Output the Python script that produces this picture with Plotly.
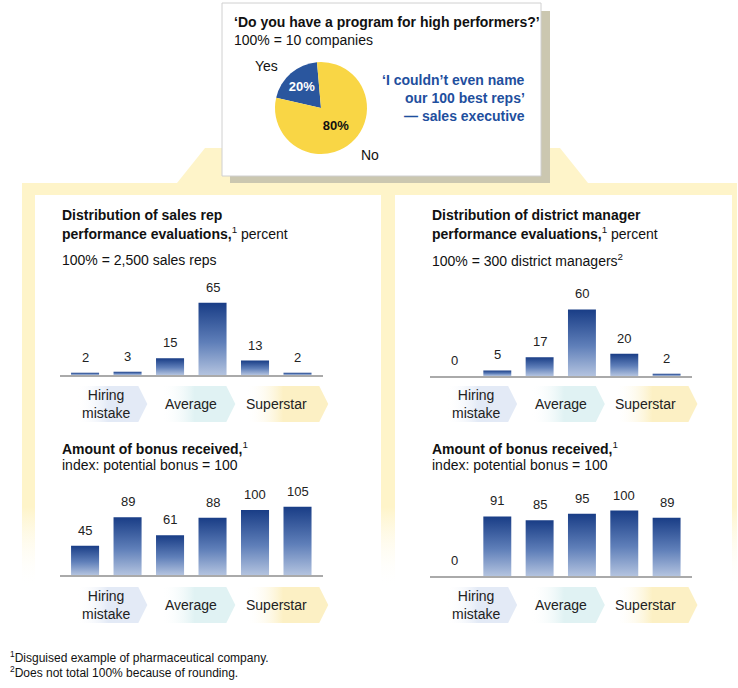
import plotly.graph_objects as go

W, H = 738, 688
FONT = "Liberation Sans Narrow, Arial Narrow, Liberation Sans, sans-serif"

# ---------------- data ----------------
pie_labels = ["Yes", "No"]
pie_values = [20, 80]
perf_levels = ["Hiring<br>mistake", "Average", "Superstar"]
rep_eval = [2, 3, 15, 65, 13, 2]
dm_eval = [0, 5, 17, 60, 20, 2]
rep_bonus = [45, 89, 61, 88, 100, 105]
dm_bonus = [0, 91, 85, 95, 100, 89]


def px(x):
    return x / W


def py(y):
    return 1 - y / H


fig = go.Figure()

YEL = "#fef4c9"
BLUE_TXT = "#1f4f9e"


def poly(pts, fillcolor=None, line=None, fillgradient=None):
    xs = [p[0] for p in pts] + [pts[0][0]]
    ys = [p[1] for p in pts] + [pts[0][1]]
    kw = {}
    if fillgradient is not None:
        kw["fillgradient"] = fillgradient
    else:
        kw["fillcolor"] = fillcolor
    fig.add_trace(go.Scatter(x=xs, y=ys, xaxis="x", yaxis="y", mode="lines", fill="toself",
                             line=line or dict(width=0), hoverinfo="skip", showlegend=False, **kw))


# ---------------- decorative frame (pixel axis) ----------------
poly([(177, 183), (205, 148), (560, 148), (588, 183)], fillcolor=YEL)
poly([(22, 183), (737, 183), (737, 195), (22, 195)], fillcolor=YEL)
fade = dict(type="vertical", start=183, stop=588,
            colorscale=[[0, YEL], [0.8, YEL], [1, "rgba(255,255,255,0)"]])
for x0, x1 in [(22, 35), (381, 395), (732, 737)]:
    poly([(x0, 183), (x1, 183), (x1, 588), (x0, 588)], fillgradient=fade)
# top box shadow and box
poly([(230, 11), (550, 11), (550, 183), (230, 183)], fillcolor="#cbc7b0")
poly([(222, 3), (541, 3), (541, 176), (222, 176)], fillcolor="white",
     line=dict(width=1, color="#d0d0d0"))

# ---------------- bar panels ----------------
panels = [
    dict(vals=rep_eval, xa="x2", ya="y2", xpx=(60, 323), base=375, scale=1.11, yr=70, cat_y=404),
    dict(vals=dm_eval, xa="x3", ya="y3", xpx=(430, 692), base=376, scale=1.11, yr=70, cat_y=404),
    dict(vals=rep_bonus, xa="x4", ya="y4", xpx=(60, 323), base=575, scale=0.65, yr=120, cat_y=605),
    dict(vals=dm_bonus, xa="x5", ya="y5", xpx=(430, 692), base=576, scale=0.655, yr=120, cat_y=605),
]
XR = (-0.59, 5.6)
HW = 0.33
BAR_SCALE = [[0, "#b3c3df"], [0.45, "#5f7fb9"], [1, "#193d86"]]
chev_colors = ["#e3eaf6", "#e0f2f3", "#fcf0c4"]
chev_tip = [41, 44, 52]

annotations = []
layout_axes = {}
for n, p in enumerate(panels):
    xa, ya = p["xa"], p["ya"]
    for i, v in enumerate(p["vals"]):
        if v > 0:
            fig.add_trace(go.Scatter(
                x=[i - HW, i + HW, i + HW, i - HW, i - HW], y=[0, 0, v, v, 0],
                xaxis=xa, yaxis=ya, mode="lines", fill="toself", line=dict(width=0),
                fillgradient=dict(type="vertical", start=0, stop=v, colorscale=BAR_SCALE),
                hoverinfo="skip", showlegend=False))
        annotations.append(dict(x=i, y=v, xref=xa, yref=ya, text=str(v), showarrow=False,
                                yanchor="bottom", yshift=6,
                                font=dict(size=13, color="#222", family=FONT)))
    x0, x1 = p["xpx"]
    unit = (x1 - x0) / (XR[1] - XR[0])
    top = p["base"] - p["yr"] * p["scale"]
    layout_axes["xaxis" + xa[1:]] = dict(domain=[px(x0), px(x1)], range=list(XR), anchor=ya,
                                         showline=True, linecolor="#aaaaaa", linewidth=2,
                                         showticklabels=False, ticks="", showgrid=False,
                                         zeroline=False, fixedrange=True)
    layout_axes["yaxis" + ya[1:]] = dict(domain=[py(p["base"]), py(top)], range=[0, p["yr"]],
                                         anchor=xa, visible=False, showgrid=False,
                                         zeroline=False, fixedrange=True)
    # category chevrons + labels
    for k, lab in enumerate(perf_levels):
        cx = x0 + (2 * k + 0.5 - XR[0]) * unit
        ytop, ybot = p["cat_y"] - 18, p["cat_y"] + 18
        tip = cx + chev_tip[k]
        poly([(cx - 30, ytop), (tip - 9, ytop), (tip, p["cat_y"]), (tip - 9, ybot), (cx - 30, ybot)],
             fillgradient=dict(type="horizontal", start=cx - 30, stop=tip,
                               colorscale=[[0, "rgba(255,255,255,0)"], [0.45, chev_colors[k]],
                                           [1, chev_colors[k]]]))
        annotations.append(dict(x=2 * k + 0.5, y=py(p["cat_y"]), xref=xa, yref="paper",
                                text=lab, showarrow=False, yanchor="middle",
                                font=dict(size=14, color="#222", family=FONT)))

# ---------------- pie ----------------
fig.add_trace(go.Pie(
    labels=pie_labels, values=pie_values, sort=False, direction="clockwise", rotation=-77,
    domain=dict(x=[px(275), px(367)], y=[py(154), py(62)]),
    marker=dict(colors=["#2a569e", "#f9d645"], line=dict(width=0)),
    textinfo="percent", texttemplate="<b>%{percent:.0%}</b>", textposition="inside",
    insidetextorientation="horizontal",
    insidetextfont=dict(family=FONT, size=13, color=["white", "#111"]),
    showlegend=False, hoverinfo="skip"))


# ---------------- texts ----------------
def txt(x, y, s, size=14, color="#111", xanchor="left"):
    annotations.append(dict(x=px(x), y=py(y), xref="paper", yref="paper", text=s,
                            showarrow=False, xanchor=xanchor, yanchor="middle",
                            font=dict(size=size, color=color, family=FONT)))


txt(232, 22, "<b>‘Do you have a program for high performers?’</b>")
txt(232, 40, "100% = 10 companies")
txt(266, 66, "Yes", xanchor="center")
txt(370, 155, "No", xanchor="center")
txt(527, 80, "<b>‘I couldn’t even name</b>", color=BLUE_TXT, xanchor="right")
txt(527, 98, "<b>our 100 best reps’</b>", color=BLUE_TXT, xanchor="right")
txt(527, 116, "<b>— sales executive</b>", color=BLUE_TXT, xanchor="right")

txt(60, 215, "<b>Distribution of sales rep</b>")
txt(60, 233, "<b>performance evaluations,</b><sup>1</sup> percent")
txt(60, 260, "100% = 2,500 sales reps")
txt(430, 215, "<b>Distribution of district manager</b>")
txt(430, 233, "<b>performance evaluations,</b><sup>1</sup> percent")
txt(430, 260, "100% = 300 district managers<sup>2</sup>")

for x in (60, 430):
    txt(x, 448, "<b>Amount of bonus received,</b><sup>1</sup>")
    txt(x, 465, "index: potential bonus = 100")

txt(8, 657, "<sup>1</sup>Disguised example of pharmaceutical company.", size=12)
txt(8, 672, "<sup>2</sup>Does not total 100% because of rounding.", size=12)

fig.update_layout(
    width=W, height=H, margin=dict(l=0, r=0, t=0, b=0),
    paper_bgcolor="white", plot_bgcolor="rgba(0,0,0,0)",
    font=dict(family=FONT, size=14, color="#111"),
    showlegend=False,
    xaxis=dict(domain=[0, 1], range=[0, W], visible=False, fixedrange=True),
    yaxis=dict(domain=[0, 1], range=[H, 0], visible=False, fixedrange=True),
    annotations=annotations,
    **layout_axes,
)

fig.write_html("out.html", config={"displayModeBar": False},
               post_script="document.body.style.margin='0';")
